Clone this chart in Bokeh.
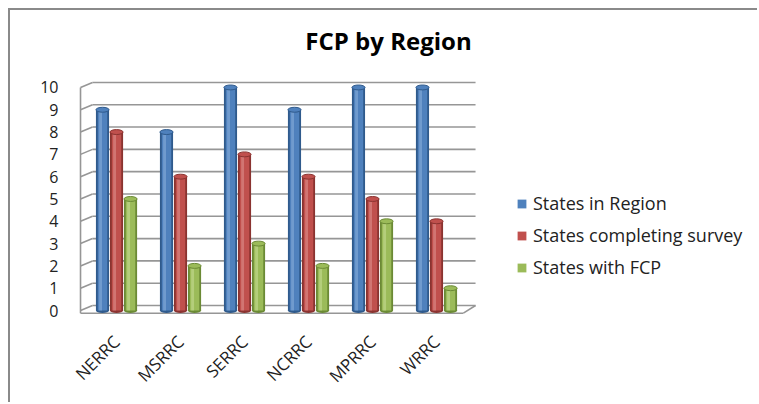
import math
from bokeh.plotting import figure
from bokeh.models import Range1d, FixedTicker, Legend, LegendItem, ColumnDataSource, Label
from bokeh.embed import file_html
from bokeh.resources import INLINE

regions = ["NERRC", "MSRRC", "SERRC", "NCRRC", "MPRRC", "WRRC"]
states_in_region = [9, 8, 10, 9, 10, 10]
states_completing = [8, 6, 7, 6, 5, 4]
states_with_fcp = [5, 2, 3, 2, 4, 1]
y_ticks = [0, 1, 2, 3, 4, 5, 6, 7, 8, 9, 10]

series = [
    ("States in Region", states_in_region, "#4F81BD", "#2F5A8C", "#7FA6D6"),
    ("States completing survey", states_completing, "#C0504D", "#8A3330", "#D98582"),
    ("States with FCP", states_with_fcp, "#9BBB59", "#6B8A35", "#BFD68A"),
]

FONT = "Open Sans"

p = figure(width=749, height=394, output_backend="svg", toolbar_location=None,
           x_range=Range1d(-0.594, 10.047), y_range=Range1d(-0.269, 13.45),
           min_border_left=68, min_border_top=0, min_border_right=0, min_border_bottom=88)
p.styles = {"border-top": "2px solid #8a8a8a", "border-left": "2px solid #8a8a8a",
            "margin-left": "8px", "margin-top": "8px"}
p.outline_line_color = None
p.xgrid.visible = False
p.ygrid.visible = False

# axes
p.yaxis.ticker = FixedTicker(ticks=y_ticks)
p.yaxis.axis_line_color = None
p.yaxis.major_tick_line_color = None
p.yaxis.minor_tick_line_color = None
p.yaxis.major_label_standoff = 14
p.yaxis.major_label_text_font = FONT
p.yaxis.major_label_text_font_size = "16px"
p.yaxis.major_label_text_color = "#222222"

p.xaxis.ticker = FixedTicker(ticks=list(range(len(regions))))
p.xaxis.major_label_overrides = {i: r for i, r in enumerate(regions)}
p.xaxis.major_label_orientation = math.pi / 4
p.xaxis.axis_line_color = None
p.xaxis.major_tick_line_color = None
p.xaxis.minor_tick_line_color = None
p.xaxis.major_label_standoff = 16
p.xaxis.major_label_text_font = FONT
p.xaxis.major_label_text_font_size = "17px"
p.xaxis.major_label_text_color = "#222222"

# 3D walls
xl_front, xl_back = -0.5625, -0.375
xr_front, xr_back = 5.42, 5.61
dy = 0.224
floor = -0.12
gx0, gy0, gx1, gy1 = [], [], [], []
for v in y_ticks:
    gx0 += [xl_front, xl_back]
    gy0 += [v, v + dy]
    gx1 += [xl_back, xr_back]
    gy1 += [v + dy, v + dy]
p.segment(gx0, gy0, gx1, gy1, line_color="#969696", line_width=1.6)
p.segment([xl_front, xl_front, xr_front], [floor, floor, floor],
          [xl_front, xr_front, xr_back], [y_ticks[-1], floor, dy],
          line_color="#969696", line_width=1.6)

# bars (cylinders)
offsets = [-0.219, 0.0, 0.219]
w = 0.205
items = []
for (name, vals, col, dark, light), off in zip(series, offsets):
    xs = [i + off for i in range(len(regions))]
    src = ColumnDataSource(dict(x=xs, top=vals, hl=[x - 0.03 for x in xs]))
    p.ellipse(x="x", y=0, width=w, height=0.22, source=src, fill_color=dark, line_color=None)
    p.vbar(x="x", top="top", bottom=0, width=w, source=src, fill_color=dark, line_color=None)
    r = p.vbar(x="x", top="top", bottom=0, width=w * 0.72, source=src, fill_color=col, line_color=None)
    p.vbar(x="hl", top="top", bottom=0, width=w * 0.22, source=src, fill_color=light, line_color=None, fill_alpha=0.7)
    p.ellipse(x="x", y="top", width=w, height=0.22, source=src, fill_color=col, line_color=dark, line_width=1)
    items.append(LegendItem(label=name, renderers=[r]))

legend = Legend(items=items, location=(438, 37), glyph_width=11, glyph_height=11,
                label_height=20, spacing=8, label_standoff=6, padding=0, margin=0,
                border_line_color=None, background_fill_alpha=0,
                label_text_font=FONT, label_text_font_size="18px", label_text_color="#222222")
p.add_layout(legend, "center")

title = Label(x=4.25, y=12.11, text="FCP by Region", text_font=FONT, text_font_style="bold",
              text_font_size="24px", text_align="center", text_baseline="middle", text_color="#000000")
p.add_layout(title)

open("out.html", "w").write(file_html(p, INLINE))
